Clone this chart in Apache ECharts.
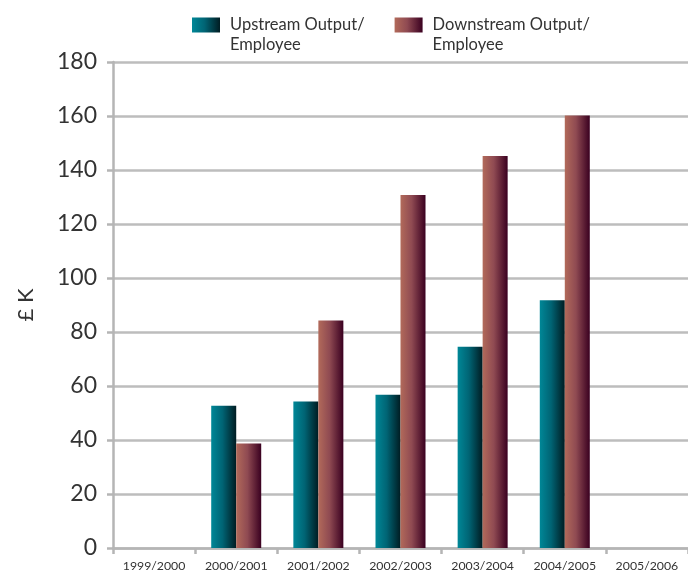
<!DOCTYPE html>
<html>
<head>
<meta charset="utf-8">
<script src="https://cdn.jsdelivr.net/npm/echarts@6/dist/echarts.min.js"></script>
<style>html,body{margin:0;padding:0;background:#fff}#c{width:688px;height:579px}</style>
</head>
<body>
<div id="c"></div>
<script>
var categories = ['1999/2000','2000/2001','2001/2002','2002/2003','2003/2004','2004/2005','2005/2006'];
var upstream = [null, 52.7, 54.3, 56.8, 74.5, 91.8, null];
var downstream = [null, 38.7, 84.3, 130.7, 145.2, 160.2, null];
var seriesNames = ['Upstream Output/\nEmployee', 'Downstream Output/\nEmployee'];
var yTicks = {min: 0, max: 180, interval: 20};

var FONT = 'Lato';
var chart = echarts.init(document.getElementById('c'), null, {renderer: 'canvas'});
function grad(stops) {
  return new echarts.graphic.LinearGradient(0, 0, 1, 0, stops);
}
var upColor = grad([{offset: 0, color: '#008797'}, {offset: 0.45, color: '#006474'}, {offset: 1, color: '#001c22'}]);
var downColor = grad([{offset: 0, color: '#b26a5a'}, {offset: 0.45, color: '#8f4a52'}, {offset: 1, color: '#3a0020'}]);

chart.setOption({
  animation: false,
  backgroundColor: '#ffffff',
  legend: {
    left: 187,
    top: -10,
    itemWidth: 28,
    itemHeight: 15,
    itemGap: 30,
    icon: 'rect',
    textStyle: {
      fontFamily: FONT,
      fontSize: 16.5,
      color: '#333',
      lineHeight: 20,
      padding: [0, 0, 0, 5]
    },
    formatter: function (n) { return '\n' + n; },
    data: seriesNames
  },
  grid: {left: 113, right: -8, top: 62, bottom: 31, containLabel: false},
  xAxis: {
    type: 'category',
    data: categories,
    axisLine: {lineStyle: {color: '#b5b5b5', width: 2.5}},
    axisTick: {show: true, interval: 0, length: 6, lineStyle: {color: '#b5b5b5', width: 2.5}},
    axisLabel: {interval: 0, hideOverlap: false, fontFamily: FONT, fontSize: 12.3, color: '#333', margin: 12}
  },
  yAxis: {
    type: 'value',
    min: yTicks.min,
    max: yTicks.max,
    interval: yTicks.interval,
    name: '£ K',
    nameLocation: 'middle',
    nameGap: 76,
    nameTextStyle: {fontFamily: FONT, fontSize: 22, color: '#333'},
    axisLine: {show: true, lineStyle: {color: '#b5b5b5', width: 2.5}},
    axisTick: {show: true, length: 6, lineStyle: {color: '#b5b5b5', width: 2.5}},
    axisLabel: {fontFamily: FONT, fontSize: 23, color: '#333', margin: 16},
    splitLine: {lineStyle: {color: '#bdbdbd', width: 2.5}}
  },
  series: [
    {name: seriesNames[0], type: 'bar', data: upstream, barWidth: 25, barGap: '0%', itemStyle: {color: upColor}},
    {name: seriesNames[1], type: 'bar', data: downstream, barWidth: 25, barGap: '0%', itemStyle: {color: downColor}}
  ]
});
</script>
</body>
</html>
